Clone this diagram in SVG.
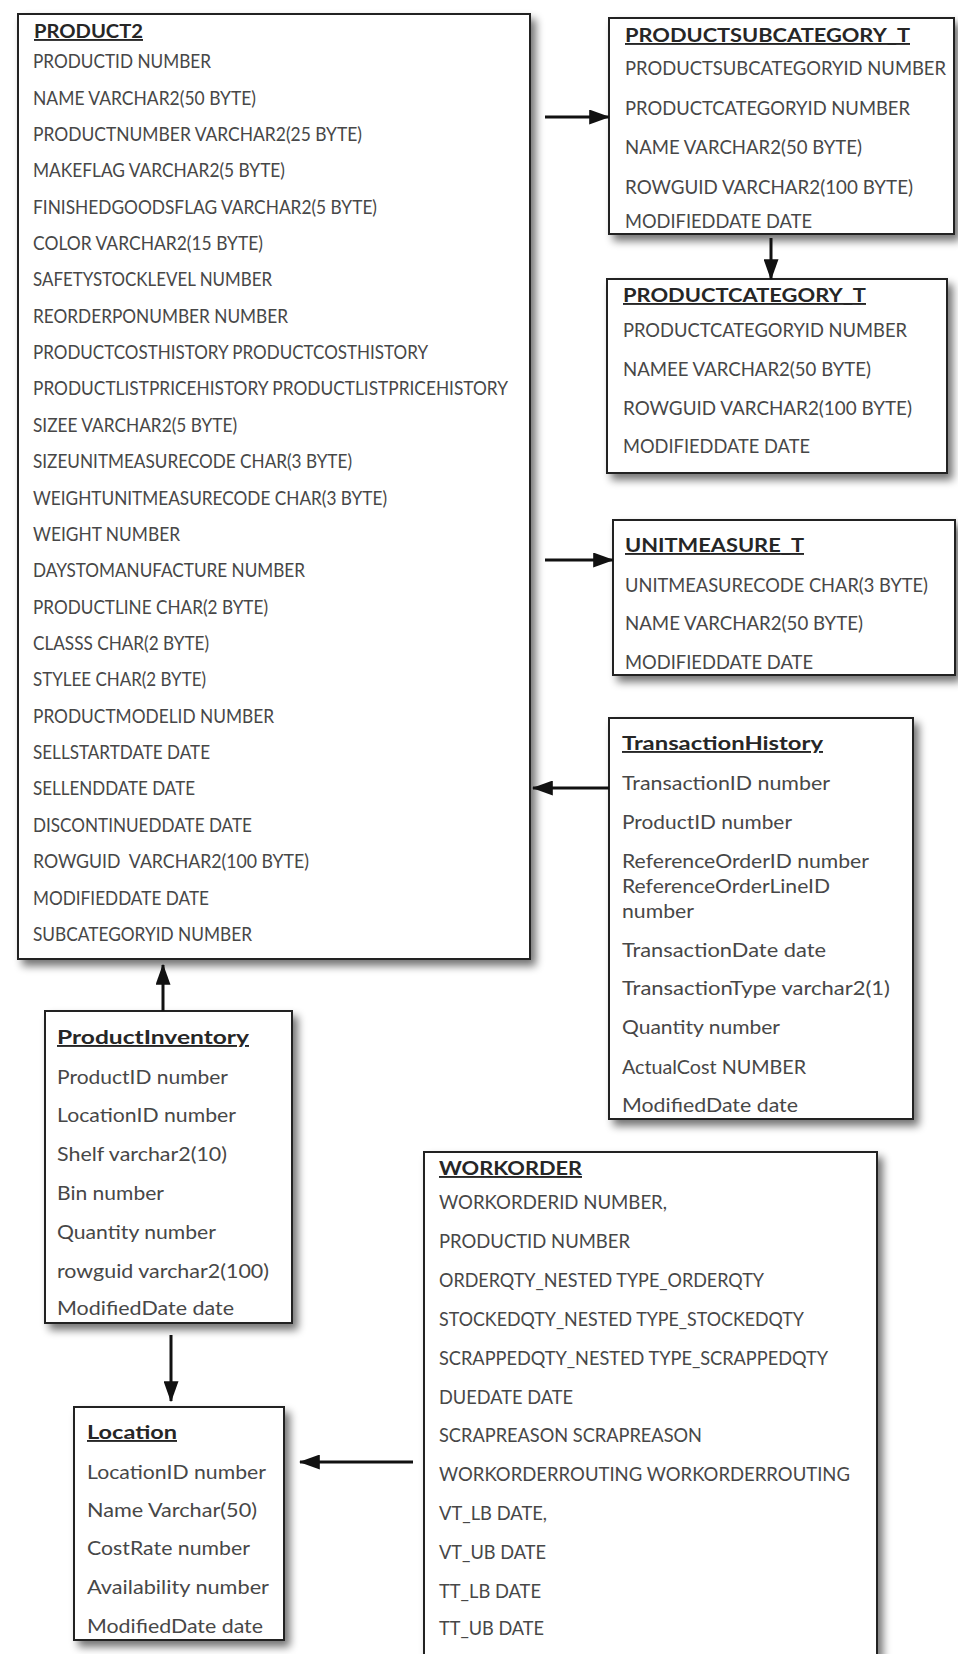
<svg xmlns="http://www.w3.org/2000/svg" width="958" height="1654" viewBox="0 0 958 1654">
  <style>
    .box { fill: #ffffff; stroke: #222222; stroke-width: 2; filter: url(#shadow); }
    text { white-space: pre; }
    .title { font-family: Lato, "Liberation Sans", sans-serif; font-size: 19px; font-weight: bold; fill: #262626; text-decoration: underline; }
    .row { font-family: Lato, "Liberation Sans", sans-serif; font-size: 19px; fill: #474747; }
    .link { stroke: #111111; stroke-width: 3; fill: none; marker-end: url(#head); }
  </style>
  <defs>
    <filter id="shadow" x="-10%" y="-10%" width="125%" height="125%">
      <feGaussianBlur in="SourceAlpha" stdDeviation="4"/>
      <feOffset dx="5" dy="6" result="blur"/>
      <feComponentTransfer><feFuncA type="linear" slope="0.55"/></feComponentTransfer>
      <feMerge><feMergeNode/><feMergeNode in="SourceGraphic"/></feMerge>
    </filter>
    <marker id="head" markerWidth="7" markerHeight="5" refX="6.6" refY="2.5" orient="auto" markerUnits="strokeWidth">
      <path d="M0,0 L7,2.5 L0,5 Z" fill="#111111"/>
    </marker>
  </defs>
  <rect width="958" height="1654" fill="#ffffff"/>

  <g id="product2">
    <rect class="box" x="18" y="14" width="512" height="945"/>
    <text class="title" x="34" y="38" textLength="109" lengthAdjust="spacingAndGlyphs">PRODUCT2</text>
    <text class="row" x="33" y="68" textLength="178" lengthAdjust="spacingAndGlyphs">PRODUCTID NUMBER</text>
    <text class="row" x="33" y="105" textLength="223" lengthAdjust="spacingAndGlyphs">NAME VARCHAR2(50 BYTE)</text>
    <text class="row" x="33" y="141" textLength="329" lengthAdjust="spacingAndGlyphs">PRODUCTNUMBER VARCHAR2(25 BYTE)</text>
    <text class="row" x="33" y="177" textLength="252" lengthAdjust="spacingAndGlyphs">MAKEFLAG VARCHAR2(5 BYTE)</text>
    <text class="row" x="33" y="214" textLength="344" lengthAdjust="spacingAndGlyphs">FINISHEDGOODSFLAG VARCHAR2(5 BYTE)</text>
    <text class="row" x="33" y="250" textLength="230" lengthAdjust="spacingAndGlyphs">COLOR VARCHAR2(15 BYTE)</text>
    <text class="row" x="33" y="286" textLength="239" lengthAdjust="spacingAndGlyphs">SAFETYSTOCKLEVEL NUMBER</text>
    <text class="row" x="33" y="323" textLength="255" lengthAdjust="spacingAndGlyphs">REORDERPONUMBER NUMBER</text>
    <text class="row" x="33" y="359" textLength="395" lengthAdjust="spacingAndGlyphs">PRODUCTCOSTHISTORY PRODUCTCOSTHISTORY</text>
    <text class="row" x="33" y="395" textLength="475" lengthAdjust="spacingAndGlyphs">PRODUCTLISTPRICEHISTORY PRODUCTLISTPRICEHISTORY</text>
    <text class="row" x="33" y="432" textLength="204" lengthAdjust="spacingAndGlyphs">SIZEE VARCHAR2(5 BYTE)</text>
    <text class="row" x="33" y="468" textLength="319" lengthAdjust="spacingAndGlyphs">SIZEUNITMEASURECODE CHAR(3 BYTE)</text>
    <text class="row" x="33" y="505" textLength="354" lengthAdjust="spacingAndGlyphs">WEIGHTUNITMEASURECODE CHAR(3 BYTE)</text>
    <text class="row" x="33" y="541" textLength="147" lengthAdjust="spacingAndGlyphs">WEIGHT NUMBER</text>
    <text class="row" x="33" y="577" textLength="272" lengthAdjust="spacingAndGlyphs">DAYSTOMANUFACTURE NUMBER</text>
    <text class="row" x="33" y="614" textLength="235" lengthAdjust="spacingAndGlyphs">PRODUCTLINE CHAR(2 BYTE)</text>
    <text class="row" x="33" y="650" textLength="176" lengthAdjust="spacingAndGlyphs">CLASSS CHAR(2 BYTE)</text>
    <text class="row" x="33" y="686" textLength="173" lengthAdjust="spacingAndGlyphs">STYLEE CHAR(2 BYTE)</text>
    <text class="row" x="33" y="723" textLength="241" lengthAdjust="spacingAndGlyphs">PRODUCTMODELID NUMBER</text>
    <text class="row" x="33" y="759" textLength="177" lengthAdjust="spacingAndGlyphs">SELLSTARTDATE DATE</text>
    <text class="row" x="33" y="795" textLength="162" lengthAdjust="spacingAndGlyphs">SELLENDDATE DATE</text>
    <text class="row" x="33" y="832" textLength="219" lengthAdjust="spacingAndGlyphs">DISCONTINUEDDATE DATE</text>
    <text class="row" x="33" y="868" textLength="276" lengthAdjust="spacingAndGlyphs">ROWGUID  VARCHAR2(100 BYTE)</text>
    <text class="row" x="33" y="905" textLength="176" lengthAdjust="spacingAndGlyphs">MODIFIEDDATE DATE</text>
    <text class="row" x="33" y="941" textLength="219" lengthAdjust="spacingAndGlyphs">SUBCATEGORYID NUMBER</text>
  </g>

  <g id="productsubcategory_t">
    <rect class="box" x="609" y="18" width="345" height="216"/>
    <text class="title" x="625" y="42" textLength="285" lengthAdjust="spacingAndGlyphs">PRODUCTSUBCATEGORY_T</text>
    <text class="row" x="625" y="75" textLength="321" lengthAdjust="spacingAndGlyphs">PRODUCTSUBCATEGORYID NUMBER</text>
    <text class="row" x="625" y="115" textLength="285" lengthAdjust="spacingAndGlyphs">PRODUCTCATEGORYID NUMBER</text>
    <text class="row" x="625" y="154" textLength="237" lengthAdjust="spacingAndGlyphs">NAME VARCHAR2(50 BYTE)</text>
    <text class="row" x="625" y="194" textLength="288" lengthAdjust="spacingAndGlyphs">ROWGUID VARCHAR2(100 BYTE)</text>
    <text class="row" x="625" y="228" textLength="187" lengthAdjust="spacingAndGlyphs">MODIFIEDDATE DATE</text>
  </g>

  <g id="productcategory_t">
    <rect class="box" x="607" y="279" width="340" height="194"/>
    <text class="title" x="623" y="302" textLength="243" lengthAdjust="spacingAndGlyphs">PRODUCTCATEGORY_T</text>
    <text class="row" x="623" y="337" textLength="284" lengthAdjust="spacingAndGlyphs">PRODUCTCATEGORYID NUMBER</text>
    <text class="row" x="623" y="376" textLength="248" lengthAdjust="spacingAndGlyphs">NAMEE VARCHAR2(50 BYTE)</text>
    <text class="row" x="623" y="415" textLength="289" lengthAdjust="spacingAndGlyphs">ROWGUID VARCHAR2(100 BYTE)</text>
    <text class="row" x="623" y="453" textLength="187" lengthAdjust="spacingAndGlyphs">MODIFIEDDATE DATE</text>
  </g>

  <g id="unitmeasure_t">
    <rect class="box" x="613" y="520" width="342" height="155"/>
    <text class="title" x="625" y="552" textLength="179" lengthAdjust="spacingAndGlyphs">UNITMEASURE_T</text>
    <text class="row" x="625" y="592" textLength="303" lengthAdjust="spacingAndGlyphs">UNITMEASURECODE CHAR(3 BYTE)</text>
    <text class="row" x="625" y="630" textLength="238" lengthAdjust="spacingAndGlyphs">NAME VARCHAR2(50 BYTE)</text>
    <text class="row" x="625" y="669" textLength="188" lengthAdjust="spacingAndGlyphs">MODIFIEDDATE DATE</text>
  </g>

  <g id="transactionhistory">
    <rect class="box" x="609" y="718" width="304" height="401"/>
    <text class="title" x="622" y="750" textLength="201" lengthAdjust="spacingAndGlyphs">TransactionHistory</text>
    <text class="row" x="622" y="790" textLength="208" lengthAdjust="spacingAndGlyphs">TransactionID number</text>
    <text class="row" x="622" y="829" textLength="170" lengthAdjust="spacingAndGlyphs">ProductID number</text>
    <text class="row" x="622" y="868" textLength="247" lengthAdjust="spacingAndGlyphs">ReferenceOrderID number</text>
    <text class="row" x="622" y="893" textLength="208" lengthAdjust="spacingAndGlyphs">ReferenceOrderLineID</text>
    <text class="row" x="622" y="918" textLength="72" lengthAdjust="spacingAndGlyphs">number</text>
    <text class="row" x="622" y="957" textLength="204" lengthAdjust="spacingAndGlyphs">TransactionDate date</text>
    <text class="row" x="622" y="995" textLength="268" lengthAdjust="spacingAndGlyphs">TransactionType varchar2(1)</text>
    <text class="row" x="622" y="1034" textLength="158" lengthAdjust="spacingAndGlyphs">Quantity number</text>
    <text class="row" x="622" y="1074" textLength="184" lengthAdjust="spacingAndGlyphs">ActualCost NUMBER</text>
    <text class="row" x="622" y="1112" textLength="176" lengthAdjust="spacingAndGlyphs">ModifiedDate date</text>
  </g>

  <g id="productinventory">
    <rect class="box" x="45" y="1011" width="247" height="312"/>
    <text class="title" x="57" y="1044" textLength="192" lengthAdjust="spacingAndGlyphs">ProductInventory</text>
    <text class="row" x="57" y="1084" textLength="171" lengthAdjust="spacingAndGlyphs">ProductID number</text>
    <text class="row" x="57" y="1122" textLength="179" lengthAdjust="spacingAndGlyphs">LocationID number</text>
    <text class="row" x="57" y="1161" textLength="170" lengthAdjust="spacingAndGlyphs">Shelf varchar2(10)</text>
    <text class="row" x="57" y="1200" textLength="107" lengthAdjust="spacingAndGlyphs">Bin number</text>
    <text class="row" x="57" y="1239" textLength="159" lengthAdjust="spacingAndGlyphs">Quantity number</text>
    <text class="row" x="57" y="1278" textLength="212" lengthAdjust="spacingAndGlyphs">rowguid varchar2(100)</text>
    <text class="row" x="57" y="1315" textLength="177" lengthAdjust="spacingAndGlyphs">ModifiedDate date</text>
  </g>

  <g id="location">
    <rect class="box" x="74" y="1407" width="210" height="233"/>
    <text class="title" x="87" y="1439" textLength="90" lengthAdjust="spacingAndGlyphs">Location</text>
    <text class="row" x="87" y="1479" textLength="179" lengthAdjust="spacingAndGlyphs">LocationID number</text>
    <text class="row" x="87" y="1517" textLength="170" lengthAdjust="spacingAndGlyphs">Name Varchar(50)</text>
    <text class="row" x="87" y="1555" textLength="163" lengthAdjust="spacingAndGlyphs">CostRate number</text>
    <text class="row" x="87" y="1594" textLength="182" lengthAdjust="spacingAndGlyphs">Availability number</text>
    <text class="row" x="87" y="1633" textLength="176" lengthAdjust="spacingAndGlyphs">ModifiedDate date</text>
  </g>

  <g id="workorder">
    <rect class="box" x="424" y="1152" width="453" height="540"/>
    <text class="title" x="439" y="1175" textLength="143" lengthAdjust="spacingAndGlyphs">WORKORDER</text>
    <text class="row" x="439" y="1209" textLength="228" lengthAdjust="spacingAndGlyphs">WORKORDERID NUMBER,</text>
    <text class="row" x="439" y="1248" textLength="191" lengthAdjust="spacingAndGlyphs">PRODUCTID NUMBER</text>
    <text class="row" x="439" y="1287" textLength="325" lengthAdjust="spacingAndGlyphs">ORDERQTY_NESTED TYPE_ORDERQTY</text>
    <text class="row" x="439" y="1326" textLength="365" lengthAdjust="spacingAndGlyphs">STOCKEDQTY_NESTED TYPE_STOCKEDQTY</text>
    <text class="row" x="439" y="1365" textLength="389" lengthAdjust="spacingAndGlyphs">SCRAPPEDQTY_NESTED TYPE_SCRAPPEDQTY</text>
    <text class="row" x="439" y="1404" textLength="134" lengthAdjust="spacingAndGlyphs">DUEDATE DATE</text>
    <text class="row" x="439" y="1442" textLength="263" lengthAdjust="spacingAndGlyphs">SCRAPREASON SCRAPREASON</text>
    <text class="row" x="439" y="1481" textLength="411" lengthAdjust="spacingAndGlyphs">WORKORDERROUTING WORKORDERROUTING</text>
    <text class="row" x="439" y="1520" textLength="108" lengthAdjust="spacingAndGlyphs">VT_LB DATE,</text>
    <text class="row" x="439" y="1559" textLength="107" lengthAdjust="spacingAndGlyphs">VT_UB DATE</text>
    <text class="row" x="439" y="1598" textLength="102" lengthAdjust="spacingAndGlyphs">TT_LB DATE</text>
    <text class="row" x="439" y="1635" textLength="105" lengthAdjust="spacingAndGlyphs">TT_UB DATE</text>
  </g>

  <g id="connectors">
    <line class="link" x1="545" y1="117" x2="609" y2="117"/>
    <line class="link" x1="771" y1="238" x2="771" y2="279"/>
    <line class="link" x1="545" y1="560" x2="613" y2="560"/>
    <line class="link" x1="609" y1="788" x2="533" y2="788"/>
    <line class="link" x1="163" y1="1011" x2="163" y2="965"/>
    <line class="link" x1="171" y1="1335" x2="171" y2="1401"/>
    <line class="link" x1="413" y1="1462" x2="300" y2="1462"/>
  </g>
</svg>
